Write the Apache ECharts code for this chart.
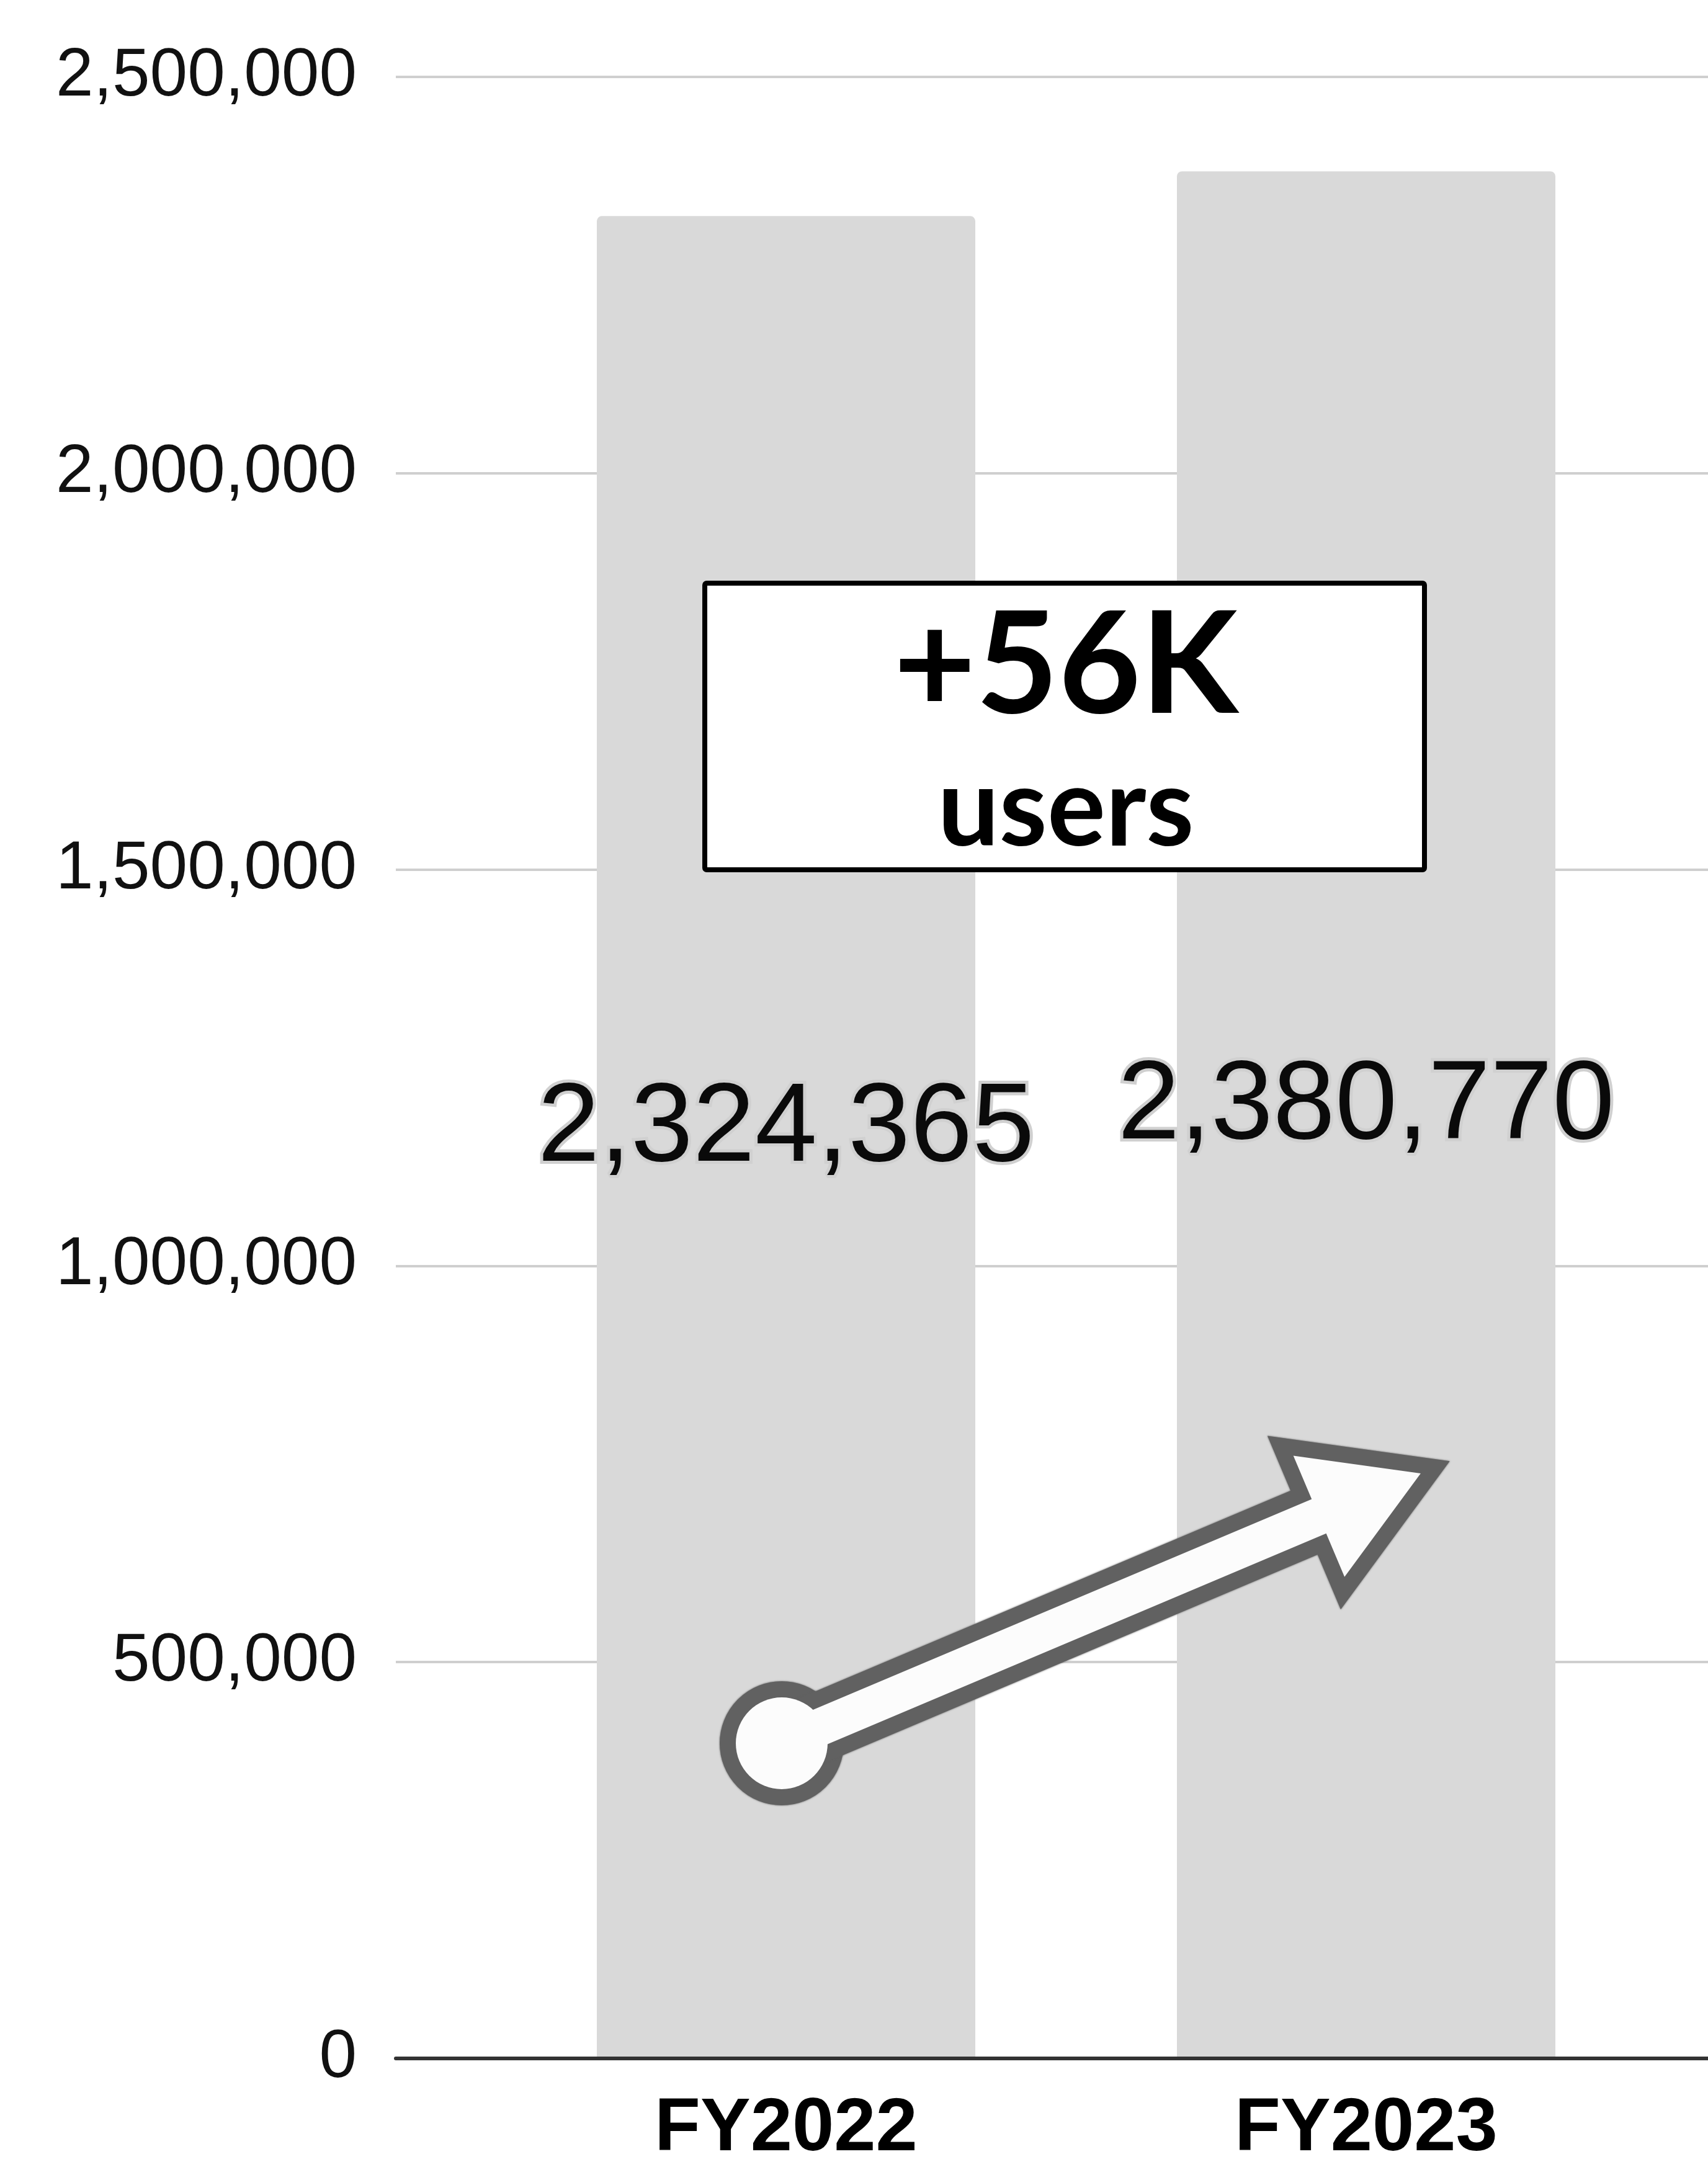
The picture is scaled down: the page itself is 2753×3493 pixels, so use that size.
<!DOCTYPE html>
<html>
<head>
<meta charset="utf-8">
<title>Users FY2022 vs FY2023</title>
<style>
  html, body { margin: 0; padding: 0; background: #ffffff; }
  #chart { width: 2753px; height: 3493px; }
</style>
<script src="https://cdn.jsdelivr.net/npm/echarts@6/dist/echarts.min.js"></script>
</head>
<body>
<div id="chart"></div>
<script>
// ---- data ----
const categories = ['FY2022', 'FY2023'];
const users = [2324365, 2380770];
const yTicks = [0, 500000, 1000000, 1500000, 2000000, 2500000];

const growth = users[1] - users[0];
const growthLabel = '+' + Math.round(growth / 1000) + 'K';
const growthUnit = 'users';

// ---- layout ----
const PLOT_TOP = 124;
const PLOT_BOTTOM = 175;
const SANS = '"Liberation Sans", Arial, sans-serif';
const fmt = v => Number(v).toLocaleString('en-US');

// upward arrow: round tail, straight shaft, triangular head
function arrowShape(cx, cy, angleDeg, shaftLen, headLen, shaftHalf, headHalf) {
  const a = angleDeg * Math.PI / 180;
  const ux = Math.cos(a), uy = -Math.sin(a);
  const nx = -uy, ny = ux;
  const pt = (t, s) => [cx + t * ux + s * nx, cy + t * uy + s * ny];
  return [
    pt(0, -shaftHalf), pt(shaftLen, -shaftHalf), pt(shaftLen, -headHalf),
    pt(shaftLen + headLen, 0),
    pt(shaftLen, headHalf), pt(shaftLen, shaftHalf), pt(0, shaftHalf)
  ];
}
const tail = { cx: 1260, cy: 2810, r: 74 };
const arrowPts = arrowShape(tail.cx, tail.cy, 22.9, 940, 178, 30, 106);
const OUTLINE = '#616161';
const FILL = '#fcfcfc';

const chart = echarts.init(document.getElementById('chart'), null, { renderer: 'canvas' });

const option = {
  backgroundColor: '#ffffff',
  animation: false,
  grid: [
    { left: 638, right: 0, top: PLOT_TOP, bottom: PLOT_BOTTOM },
    { left: 799.5, right: 83.5, top: PLOT_TOP, bottom: PLOT_BOTTOM }
  ],
  xAxis: [
    {
      gridIndex: 0, type: 'value', min: 0, max: 1, z: 5,
      axisLine: { show: true, onZero: false, lineStyle: { color: '#333333', width: 6 } },
      axisTick: { show: false }, axisLabel: { show: false }, splitLine: { show: false }
    },
    {
      gridIndex: 1, type: 'category', data: categories,
      axisLine: { show: false }, axisTick: { show: false },
      axisLabel: { margin: 55, fontSize: 121, fontWeight: 'bold', color: '#000000', fontFamily: SANS }
    }
  ],
  yAxis: [
    {
      gridIndex: 0, type: 'value',
      min: yTicks[0], max: yTicks[yTicks.length - 1], interval: yTicks[1] - yTicks[0],
      axisLine: { show: false }, axisTick: { show: false },
      axisLabel: {
        margin: 63, fontSize: 109, color: '#111111', fontFamily: SANS,
        padding: [0, 0, 18, 0], formatter: fmt
      },
      splitLine: { lineStyle: { color: '#cfcfcf', width: 4 } }
    },
    {
      gridIndex: 1, type: 'value',
      min: yTicks[0], max: yTicks[yTicks.length - 1], interval: yTicks[1] - yTicks[0],
      show: false
    }
  ],
  series: [
    {
      type: 'bar', xAxisIndex: 1, yAxisIndex: 1,
      data: users, barWidth: 610,
      itemStyle: { color: '#d9d9d9', borderRadius: [8, 8, 0, 0] },
      label: {
        show: true, position: 'inside', offset: [0, -11],
        fontSize: 180, color: '#0a0a0a', fontFamily: SANS,
        textBorderColor: '#d0d0d0', textBorderWidth: 10,
        formatter: p => fmt(p.value)
      }
    }
  ],
  graphic: [
    // growth callout
    {
      type: 'rect', z: 100,
      shape: { x: 1136, y: 940, width: 1160, height: 462, r: 3 },
      style: { fill: '#ffffff', stroke: '#000000', lineWidth: 8 }
    },
    {
      type: 'text', z: 101,
      style: {
        text: growthLabel, x: 1718, y: 1075, align: 'center', verticalAlign: 'middle',
        fontSize: 229, fontWeight: 'bold', fontFamily: 'Lato, "Noto Sans", sans-serif', fill: '#000000'
      }
    },
    {
      type: 'text', z: 101,
      style: {
        text: growthUnit, x: 1718, y: 1306, align: 'center', verticalAlign: 'middle',
        fontSize: 176, fontWeight: 'bold', fontFamily: 'Lato, "Noto Sans", sans-serif', fill: '#000000'
      }
    },
    // arrow: outline pass, then fill pass on top to merge the shapes
    {
      type: 'circle', z: 100,
      shape: { cx: tail.cx, cy: tail.cy, r: tail.r },
      style: { fill: OUTLINE, stroke: OUTLINE, lineWidth: 52, shadowBlur: 3, shadowColor: OUTLINE }
    },
    {
      type: 'polygon', z: 100,
      shape: { points: arrowPts },
      style: { fill: OUTLINE, stroke: OUTLINE, lineWidth: 52, lineJoin: 'miter', miterLimit: 10, shadowBlur: 3, shadowColor: OUTLINE }
    },
    {
      type: 'circle', z: 101,
      shape: { cx: tail.cx, cy: tail.cy, r: tail.r },
      style: { fill: FILL }
    },
    {
      type: 'polygon', z: 101,
      shape: { points: arrowPts },
      style: { fill: FILL }
    }
  ]
};

chart.setOption(option);
</script>
</body>
</html>
